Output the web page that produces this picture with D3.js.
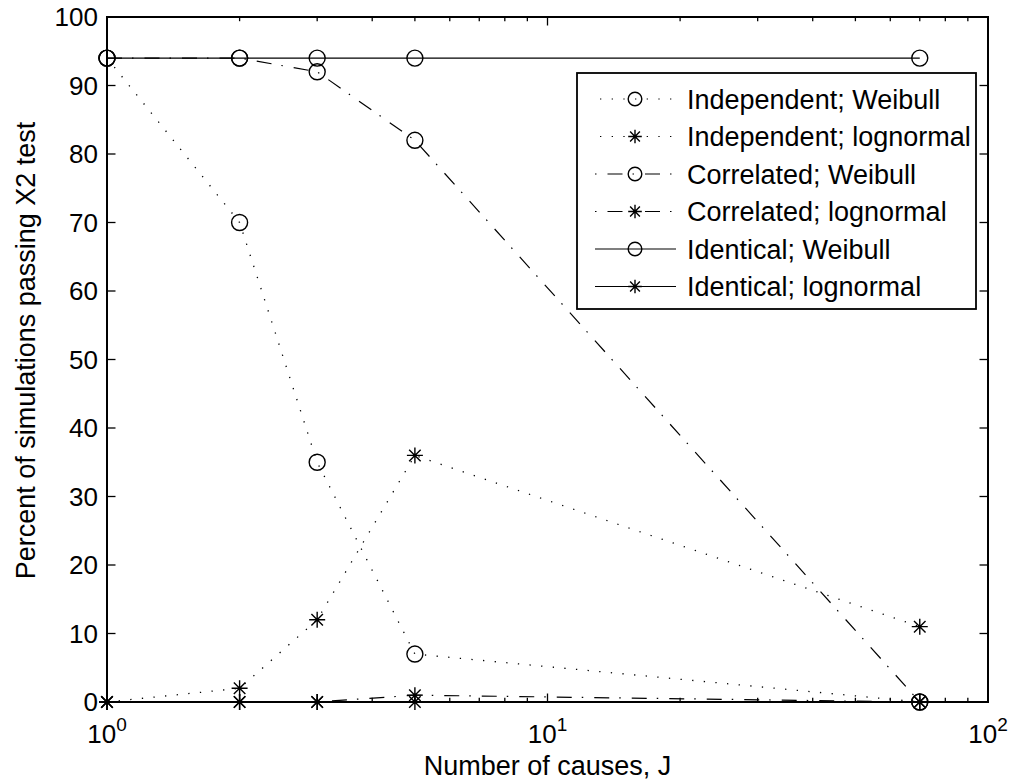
<!DOCTYPE html>
<html>
<head>
<meta charset="utf-8">
<script src="https://cdn.jsdelivr.net/npm/d3@7"></script>
<style>
  html, body { margin: 0; padding: 0; background: #fff; }
  svg { display: block; font-family: "Liberation Sans", Arial, Helvetica, sans-serif; }
</style>
</head>
<body>
<svg id="chart" width="1021" height="780"></svg>
<script>
// Number of causes J (x values) and percent of simulations passing the X2 test per model
const causes = [1, 2, 3, 5, 70];
const indepWeibull   = [94, 70, 35, 7, 0];
const indepLognormal = [0, 2, 12, 36, 11];
const corrWeibull    = [94, 94, 92, 82, 0];
const corrLognormal  = [0, 0, 0, 1, 0];
const identWeibull   = [94, 94, 94, 94, 94];
const identLognormal = [0, 0, 0, 0, 0];

const seriesNames = [
  "Independent; Weibull", "Independent; lognormal",
  "Correlated; Weibull", "Correlated; lognormal",
  "Identical; Weibull", "Identical; lognormal"
];
const seriesValues = [indepWeibull, indepLognormal, corrWeibull, corrLognormal, identWeibull, identLognormal];
const seriesStyles = ["dotted", "dotted", "dashdot", "dashdot", "solid", "solid"];
const seriesMarkers = ["circle", "asterisk", "circle", "asterisk", "circle", "asterisk"];

const yTicks = [0, 10, 20, 30, 40, 50, 60, 70, 80, 90, 100];
const xTickExponents = [0, 1, 2];

const xLabel = "Number of causes, J";
const yLabel = "Percent of simulations passing X2 test";

// Plot box
const boxLeft = 107, boxRight = 988, boxTop = 17, boxBottom = 702;

const x = d3.scaleLog().domain([1, 100]).range([boxLeft, boxRight]);
const y = d3.scaleLinear().domain([0, 100]).range([boxBottom, boxTop]);

const svg = d3.select("#chart");

const dashes = {
  dotted: "1.3 10.37",
  dashdot: "15 10 1.5 11",
  solid: null
};

// Axes box with inward ticks on all four sides
const axisG = svg.append("g").attr("stroke", "#000").attr("fill", "none");

// Log x ticks: majors at decades, minors at 2..9
const xAll = x.ticks();
xAll.forEach(v => {
  const major = Math.abs(Math.log10(v) - Math.round(Math.log10(v))) < 1e-9;
  const len = major ? 8.5 : 4.2;
  const px = x(v);
  axisG.append("line").attr("x1", px).attr("x2", px).attr("y1", boxBottom).attr("y2", boxBottom - len).attr("stroke-width", 1.3);
  axisG.append("line").attr("x1", px).attr("x2", px).attr("y1", boxTop).attr("y2", boxTop + len).attr("stroke-width", 1.3);
});
yTicks.forEach(v => {
  const py = y(v);
  axisG.append("line").attr("x1", boxLeft).attr("x2", boxLeft + 8.5).attr("y1", py).attr("y2", py).attr("stroke-width", 1.3);
  axisG.append("line").attr("x1", boxRight).attr("x2", boxRight - 8.5).attr("y1", py).attr("y2", py).attr("stroke-width", 1.3);
});
axisG.append("rect")
  .attr("x", boxLeft).attr("y", boxTop)
  .attr("width", boxRight - boxLeft).attr("height", boxBottom - boxTop)
  .attr("stroke-width", 2);

// Tick labels
const tickFont = 26;
svg.append("g").selectAll("text").data(yTicks).join("text")
  .attr("x", boxLeft - 9)
  .attr("y", d => y(d) + tickFont * 0.36)
  .attr("text-anchor", "end")
  .attr("font-size", tickFont)
  .attr("fill", "#000")
  .text(d => d);

const xl = svg.append("g").selectAll("text").data(xTickExponents).join("text")
  .attr("x", d => x(Math.pow(10, d)))
  .attr("y", 743)
  .attr("text-anchor", "middle")
  .attr("font-size", tickFont)
  .attr("fill", "#000");
xl.append("tspan").text("10");
xl.append("tspan").attr("dy", -12).attr("font-size", 19).text(d => d);

// Axis titles
svg.append("text")
  .attr("x", (boxLeft + boxRight) / 2)
  .attr("y", 775)
  .attr("text-anchor", "middle")
  .attr("font-size", 27)
  .attr("fill", "#000")
  .text(xLabel);

svg.append("text")
  .attr("transform", `translate(35, ${(boxTop + boxBottom) / 2 - 9}) rotate(-90)`)
  .attr("text-anchor", "middle")
  .attr("font-size", 27)
  .attr("fill", "#000")
  .text(yLabel);

// Marker drawing
function drawMarker(g, kind, cx, cy, r) {
  if (kind === "circle") {
    g.append("circle").attr("cx", cx).attr("cy", cy).attr("r", r)
      .attr("fill", "none").attr("stroke", "#000").attr("stroke-width", 1.4);
  } else {
    const d = r * 0.72;
    const p = `M${cx - r},${cy}L${cx + r},${cy}M${cx},${cy - r}L${cx},${cy + r}` +
              `M${cx - d},${cy - d}L${cx + d},${cy + d}M${cx - d},${cy + d}L${cx + d},${cy - d}`;
    g.append("path").attr("d", p).attr("fill", "none").attr("stroke", "#000").attr("stroke-width", 1.4);
  }
}

// Series lines and markers
const line = d3.line().x(d => x(d[0])).y(d => y(d[1]));
const plotG = svg.append("g");
seriesValues.forEach((vals, i) => {
  const pts = causes.map((c, j) => [c, vals[j]]);
  plotG.append("path")
    .attr("d", line(pts))
    .attr("fill", "none")
    .attr("stroke", "#000")
    .attr("stroke-width", seriesStyles[i] === "dotted" ? 1.3 : 1.2)
    .attr("stroke-dasharray", dashes[seriesStyles[i]]);
  pts.forEach(p => drawMarker(plotG, seriesMarkers[i], x(p[0]), y(p[1]), 8));
});

// Legend
const lg = svg.append("g");
const lgX = 577, lgY = 73, lgW = 399, lgH = 236;
lg.append("rect").attr("x", lgX).attr("y", lgY).attr("width", lgW).attr("height", lgH)
  .attr("fill", "#fff").attr("stroke", "#000").attr("stroke-width", 1.8);
seriesNames.forEach((name, i) => {
  const ry = 99 + i * 37.5;
  const style = seriesStyles[i];
  const x1 = style === "dotted" ? 600 : 595;
  const x2 = style === "dotted" ? 672 : 676;
  lg.append("line")
    .attr("x1", x1).attr("x2", x2).attr("y1", ry).attr("y2", ry)
    .attr("stroke", "#000")
    .attr("stroke-width", 1.2)
    .attr("stroke-dasharray", dashes[style])
    .attr("stroke-dashoffset", style === "dashdot" ? 25 : 0);
  drawMarker(lg, seriesMarkers[i], 635, ry, 6.8);
  lg.append("text")
    .attr("x", 687)
    .attr("y", ry + 27 * 0.36)
    .attr("font-size", 27)
    .attr("fill", "#000")
    .text(name);
});
</script>
</body>
</html>
